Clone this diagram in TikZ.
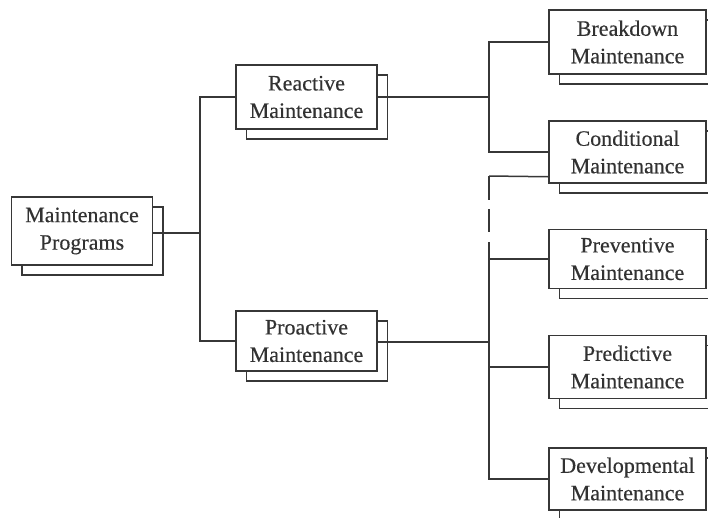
\documentclass[tikz,border=0pt]{standalone}
\usepackage{fontspec}
\setmainfont{Liberation Serif}[FakeBold=0.3]
\usepackage{tikz}
\usetikzlibrary{shadows, positioning, calc}
\definecolor{inkline}{RGB}{55,55,55}
\definecolor{inktext}{RGB}{50,50,50}
\tikzset{
  progbox/.style={rectangle, draw=inkline, fill=white, line width=1.5pt,
    align=center, inner sep=0pt, text=inktext,
    font=\fontsize{22}{27.5}\selectfont,
    copy shadow={shadow xshift=10.5pt, shadow yshift=-10pt, draw=inkline, fill=white, line width=1.5pt}},
  leftbox/.style={progbox, minimum width=141pt, minimum height=64pt},
  rightbox/.style={progbox, minimum width=157pt, minimum height=62pt},
  conn/.style={line width=1.5pt, color=inkline},
  gapline/.style={conn, dash pattern=on 24pt off 9pt on 23pt off 10pt on 40pt}
}
\begin{document}
\begin{tikzpicture}[x=1pt, y=-1pt]
  \useasboundingbox (0,0) rectangle (708,517);
  \clip (0,0) rectangle (708,517);

  % Boxes
  \node[leftbox, minimum height=68pt] (prog) at (82,231) {Maintenance\\Programs};
  \node[leftbox] (react) at (306.5,97) {Reactive\\Maintenance};
  \node[leftbox, minimum height=60pt] (proact) at (306.5,341) {Proactive\\Maintenance};

  \node[rightbox, minimum height=64pt] (brk) at (627.5,42) {Breakdown\\Maintenance};
  \node[rightbox] (cond) at (627.5,152) {Conditional\\Maintenance};
  \node[rightbox, minimum height=59pt] (prev) at (627.5,259) {Preventive\\Maintenance};
  \node[rightbox, minimum height=63pt] (pred) at (627.5,367) {Predictive\\Maintenance};
  \node[rightbox] (devel) at (627.5,479) {Developmental\\Maintenance};

  % Junctions
  \coordinate (j1) at (200,233);
  \coordinate (j2) at (489,97);
  \coordinate (j3) at (489,342);
  \coordinate (t3) at (489,176);

  % First level
  \draw[conn] (prog.east |- j1) -- (j1);
  \draw[conn] (react.west) -| (j1) |- (proact.west);

  % Reactive branch
  \draw[conn] (react.east) -- (j2);
  \draw[conn] (brk.west) -| (j2) |- (cond.west);

  % Proactive branch
  \draw[conn] (proact.east |- j3) -- (j3);
  \draw[conn] ([yshift=7pt]cond.south west) -- (t3);
  \draw[gapline] (t3) -- (prev.west -| t3);
  \draw[conn] (prev.west) -| (j3) |- (devel.west);
  \draw[conn] (pred.west) -- (pred.west -| j3);
\end{tikzpicture}
\end{document}
